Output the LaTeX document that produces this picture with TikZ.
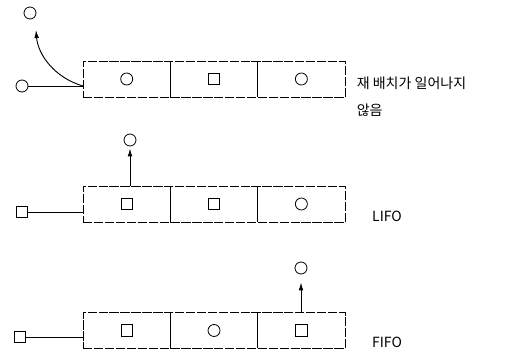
\documentclass[tikz,border=0pt]{standalone}
\usepackage{fontspec}
\setmainfont{Noto Sans CJK KR}
\usetikzlibrary{positioning,arrows.meta}
\tikzset{
 cell/.style={draw, dash pattern=on 7pt off 1.2pt, minimum width=65.5pt, minimum height=27pt, inner sep=0pt, outer sep=0pt},
 circ/.style={draw, circle, minimum size=9pt, inner sep=0pt},
 sq/.style={draw, rectangle, minimum size=8.5pt, inner sep=0pt},
 mv/.style={-{Latex[length=6pt,width=3.5pt]}, line width=0.7pt},
 tag/.style={font=\fontsize{10.5}{20}\selectfont, align=left}
}
\begin{document}
\begin{tikzpicture}[x=0.75pt, y=-0.75pt, line width=0.6pt]
 \useasboundingbox (0,0) rectangle (532,352);

 % Zeile 1: keine Umordnung
 \node[cell] (a1) at (126.7,79) {};
 \node[cell, right=0pt of a1] (a2) {};
 \node[cell, right=0pt of a2] (a3) {};
 \node[circ] (a1s) at (a1) {};
 \node[sq] (a2s) at (a2) {};
 \node[circ] (a3s) at (a3) {};
 \node[circ] (ain) at (22,86) {};
 \node[circ] (aout) at (30,13) {};
 \coordinate (atip) at (36,30);
 \draw (ain) -- (ain -| a1.west);
 \draw[mv] (ain -| a1.west) .. controls (55,78) and (38,55) .. (atip);
 \node[tag, anchor=north west] (alab) at (352,72) {재 배치가 일어나지\\않음};

 % Zeile 2: LIFO
 \node[cell] (b1) at (126.7,204) {};
 \node[cell, right=0pt of b1] (b2) {};
 \node[cell, right=0pt of b2] (b3) {};
 \node[sq] (b1s) at (b1) {};
 \node[sq] (b2s) at (b2) {};
 \node[circ] (b3s) at (b3) {};
 \node[sq] (bin) at (22,212) {};
 \node[circ] (bout) at (130,140) {};
 \draw (bin) -- (bin -| b1.west);
 \draw[mv, shorten >=1.5pt] (b1.north -| bout) -- (bout);
 \node[tag] (blab) at (387,216) {LIFO};

 % Zeile 3: FIFO
 \node[cell] (c1) at (126.7,330.5) {};
 \node[cell, right=0pt of c1] (c2) {};
 \node[cell, right=0pt of c2] (c3) {};
 \node[sq] (c1s) at (c1) {};
 \node[circ] (c2s) at (c2) {};
 \node[sq] (c3s) at (c3) {};
 \node[sq] (cin) at (20,337) {};
 \node[circ] (cout) at (301,268) {};
 \draw (cin) -- (cin -| c1.west);
 \draw[mv, shorten >=6pt] (c1.north -| cout) -- (cout);
 \node[tag] (clab) at (387,342) {FIFO};
\end{tikzpicture}
\end{document}
